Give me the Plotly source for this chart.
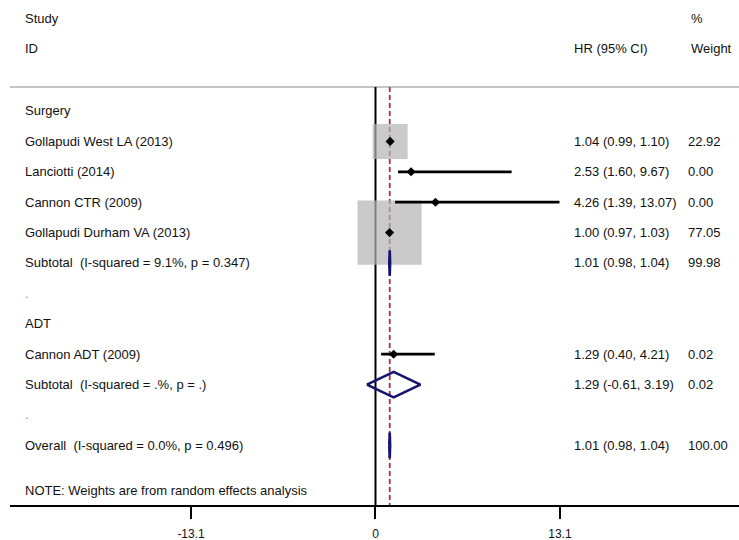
import plotly.graph_objects as go

# ---------------- data ----------------
groups = ["Surgery", "Surgery", "Surgery", "Surgery", "ADT"]
studies = ["Gollapudi West LA (2013)", "Lanciotti (2014)", "Cannon CTR (2009)",
           "Gollapudi Durham VA (2013)", "Cannon ADT (2009)"]
hr = [1.04, 2.53, 4.26, 1.00, 1.29]
ci_lo = [0.99, 1.60, 1.39, 0.97, 0.40]
ci_hi = [1.10, 9.67, 13.07, 1.03, 4.21]
weights = [22.92, 0.00, 0.00, 77.05, 0.02]

group_names = ["Surgery", "ADT"]
sub_labels = ["Subtotal  (I-squared = 9.1%, p = 0.347)", "Subtotal  (I-squared = .%, p = .)"]
sub_hr = [1.01, 1.29]
sub_lo = [0.98, -0.61]
sub_hi = [1.04, 3.19]
sub_w = [99.98, 0.02]

overall_label = "Overall  (I-squared = 0.0%, p = 0.496)"
overall_hr = 1.01
overall_lo = 0.98
overall_hi = 1.04
overall_w = 100.00

note = "NOTE: Weights are from random effects analysis"
tick_vals = [-13.1, 0, 13.1]
tick_text = ["-13.1", "0", "13.1"]

# ---------------- build rows ----------------
rows = []
for gi, g in enumerate(group_names):
    rows.append(dict(kind="group", label=g))
    for i, s in enumerate(studies):
        if groups[i] == g:
            rows.append(dict(kind="study", label=s, est=hr[i], lo=ci_lo[i], hi=ci_hi[i], w=weights[i]))
    rows.append(dict(kind="sub", label=sub_labels[gi], est=sub_hr[gi], lo=sub_lo[gi], hi=sub_hi[gi], w=sub_w[gi]))
    rows.append(dict(kind="blank", label="."))
rows.append(dict(kind="sub", label=overall_label, est=overall_hr, lo=overall_lo, hi=overall_hi, w=overall_w))

FONT = "Liberation Sans, Arial, sans-serif"
TXT = "#111111"
X_LABEL = -25.03
X_HR = 13.95
X_W = 22.05
DIAMOND_H = 0.42
BOX_K = 7.31  # px per sqrt(weight)
FS = 13

fig = go.Figure()
annotations = []

def add_text(x, y, text, color=TXT):
    annotations.append(dict(x=x, y=y, xref="x", yref="y", text=text, showarrow=False,
                            xanchor="left", yanchor="middle",
                            font=dict(family=FONT, size=FS, color=color)))

# headers
add_text(X_LABEL, -3.05, "Study")
add_text(X_LABEL, -2.04, "ID")
add_text(X_HR, -2.04, "HR (95% CI)")
add_text(X_W + 0.25, -3.05, "%")
add_text(X_W + 0.25, -2.04, "Weight")

box_x, box_y, box_s = [], [], []
for k, r in enumerate(rows):
    color = "#8a8a8a" if r["kind"] == "blank" else TXT
    add_text(X_LABEL, k, r["label"], color)
    if r["kind"] in ("study", "sub"):
        add_text(X_HR, k, f"{r['est']:.2f} ({r['lo']:.2f}, {r['hi']:.2f})")
        add_text(X_W, k, f"{r['w']:.2f}")
    if r["kind"] == "study":
        box_x.append(r["est"]); box_y.append(k); box_s.append(BOX_K * r["w"] ** 0.5)

add_text(X_LABEL, len(rows) + 0.5, note)

# boxes
fig.add_trace(go.Scatter(x=box_x, y=box_y, mode="markers",
                         marker=dict(symbol="square", size=box_s, color="#b4b4b4", line=dict(width=0)),
                         hoverinfo="skip", showlegend=False))

# CI lines and point estimates
for k, r in enumerate(rows):
    if r["kind"] == "study":
        fig.add_trace(go.Scatter(x=[r["lo"], r["hi"]], y=[k, k], mode="lines",
                                 line=dict(color="black", width=2.8),
                                 hoverinfo="skip", showlegend=False))
pk = [k for k, r in enumerate(rows) if r["kind"] == "study"]
fig.add_trace(go.Scatter(x=[rows[k]["est"] for k in pk], y=pk, mode="markers",
                         marker=dict(symbol="diamond", size=7, color="black"),
                         hoverinfo="skip", showlegend=False))

# diamonds
for k, r in enumerate(rows):
    if r["kind"] == "sub":
        fig.add_trace(go.Scatter(
            x=[r["lo"], r["est"], r["hi"], r["est"], r["lo"]],
            y=[k, k - DIAMOND_H, k, k + DIAMOND_H, k],
            mode="lines", line=dict(color="#14146e", width=2.6),
            hoverinfo="skip", showlegend=False))

TOP = -0.79
BOTTOM = 12.961
shapes = [
    dict(type="line", xref="paper", yref="y", x0=0, x1=1, y0=TOP, y1=TOP,
         line=dict(color="#c4c4c4", width=2), layer="below"),
    dict(type="line", xref="x", yref="y", x0=0, x1=0, y0=TOP, y1=BOTTOM,
         line=dict(color="black", width=2), layer="below"),
    dict(type="line", xref="x", yref="y", x0=overall_hr, x1=overall_hr, y0=TOP, y1=BOTTOM,
         line=dict(color="#a0343e", width=1.8, dash="5px,3px"), layer="below"),
]

fig.update_layout(
    width=739, height=540,
    margin=dict(l=10, r=0, t=0, b=35),
    paper_bgcolor="white", plot_bgcolor="white",
    showlegend=False,
    annotations=annotations, shapes=shapes,
    xaxis=dict(range=[-25.96, 25.82], showgrid=False, zeroline=False,
               showline=True, linecolor="black", linewidth=2,
               ticks="outside", ticklen=12, tickwidth=2, tickcolor="black",
               tickvals=tick_vals, ticktext=tick_text, ticklabelstandoff=5,
               tickfont=dict(family=FONT, size=12, color=TXT), fixedrange=True),
    yaxis=dict(range=[BOTTOM, -3.651], visible=False, fixedrange=True),
)

fig.write_html("out.html", config={"displayModeBar": False},
               post_script="document.body.style.margin='0';document.body.style.overflow='hidden';")
